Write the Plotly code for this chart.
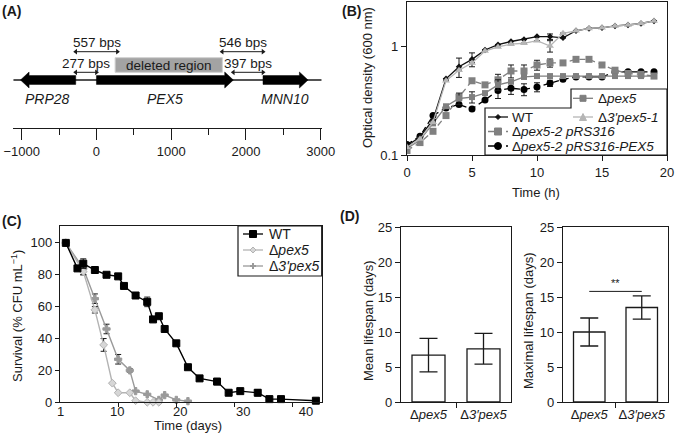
import plotly.graph_objects as go

W, H = 676, 441
FONT = 'Arial, Liberation Sans, sans-serif'
INK = '#1a1a1a'

# ---- (A) PEX5 locus (bp)
gene_names = ['PRP28', 'PEX5', 'MNN10']
gene_tail = [-277, 0, 2228]
gene_tip = [-1016, 1831, 2830]
gene_label_x = [-648, 913, 2517]
deleted_region = [250, 1684]
bp_labels = ['557 bps', '277 bps', '546 bps', '397 bps']
bp_from = [-277, -277, 1682, 1831]
bp_to = [280, 0, 2228, 2228]
bp_upper = [True, False, True, False]
locus_ticks = [-1000, 0, 1000, 2000, 3000]

# ---- (B) growth curves, OD600
time_h = list(range(20))
od_wt = [0.121, 0.147, 0.21, 0.50, 0.645, 0.755, 0.92, 1.03, 1.10, 1.15,
         1.22, 1.22, 1.19, 1.38, 1.45, 1.47, 1.53, 1.56, 1.61, 1.70]
err_wt = [None] * 4 + [0.13, 0.11] + [None] * 5 + [0.07] + [None] * 8
od_d3 = [0.118, 0.14, 0.20, 0.48, 0.60, 0.70, 0.90, 0.98, 1.04, 1.06,
         1.12, 1.00, 1.31, 1.38, 1.45, 1.47, 1.53, 1.56, 1.61, 1.70]
err_d3 = [None] * 11 + [0.12] + [None] * 8
od_dpex5 = [0.115, 0.137, 0.195, 0.28, 0.33, 0.34, 0.37, 0.44, 0.47, 0.52,
            0.53, 0.53, 0.53, 0.53, 0.53, 0.53, 0.53, 0.53, 0.53, 0.53]
err_dpex5 = [None] * 4 + [0.04, 0.04, None, 0.05] + [None] * 12
od_rs = [0.11, 0.13, 0.165, 0.23, 0.34, 0.48, 0.44, 0.49, 0.59, 0.59,
         0.67, 0.70, 0.70, 0.755, 0.755, 0.67, 0.60, 0.56, 0.55, 0.53]
err_rs = [None] * 7 + [0.06, 0.08, 0.08, 0.07, 0.06] + [None] * 8
od_rsp = [0.125, 0.149, 0.23, 0.27, 0.29, 0.265, 0.32, 0.39, 0.41, 0.40,
          0.42, 0.455, 0.495, 0.52, 0.52, 0.52, 0.58, 0.58, 0.58, 0.58]
err_rsp = [None] * 7 + [0.06, 0.05, 0.05, 0.04, 0.03] + [None] * 8

# ---- (C) chronological survival (%)
days_wt = [1, 3, 4, 6, 8, 10, 11, 13, 15, 16, 17, 18, 20, 22, 24, 27, 29, 31, 34, 36, 38, 44]
surv_wt = [100, 84, 87, 83, 80, 79, 73, 67, 63, 52, 54, 46, 37, 22, 15, 13, 6, 7, 6, 2, 2, 1]
serr_wt = [None, None, 3, None, None, 1, None, None, 3, None, None, None, 1, None, None, 2,
           None, None, 2, None, None, None]
days_dpex5 = [1, 4, 6, 7.5, 9, 10, 12, 13, 15, 16, 17]
surv_dpex5 = [100, 82, 58, 36, 12, 6, 6, 1, 0, 0, 0]
serr_dpex5 = [None, 2, 2, 4, None, None, None, None, None, None, None]
days_d3 = [1, 4, 6, 8, 10, 12, 13, 15, 17, 18, 20, 22]
surv_d3 = [100, 84, 65, 46, 27, 20, 7, 5, 1.5, 4.5, 1.5, 0.7]
serr_d3 = [None, 4, 3, 3, 3, 1, None, None, None, None, None, None]
day_ticks = [1, 10, 20, 30, 40]

# ---- (D) lifespans (days)
strains = ['Δ<i>pex5</i>', 'Δ<i>3′pex5</i>']
mean_life = [6.7, 7.6]
mean_err = [2.4, 2.2]
max_life = [10.0, 13.5]
max_err = [2.0, 1.65]
sig_level = 15.8


def fx(p):
    return p / W


def fy(p):
    return 1 - p / H


shapes = []
annotations = []
fig = go.Figure()

# (A) backbone + genes
fig.add_trace(go.Scatter(x=[-1110, 3010], y=[48, 48], mode='lines',
                         line=dict(color=INK, width=1.3), xaxis='x', yaxis='y'))
gx, gy = [], []
for tail, tip in zip(gene_tail, gene_tip):
    d = 1 if tip > tail else -1
    neck = tip - d * 115
    gx += [tail, neck, neck, tip, neck, neck, tail, tail, None]
    gy += [43.6, 43.6, 40, 48, 56, 52.4, 52.4, 43.6, None]
fig.add_trace(go.Scatter(x=gx, y=gy, mode='lines', fill='toself', fillcolor='#000',
                         line=dict(color='#000', width=0.5), xaxis='x', yaxis='y'))
shapes.append(dict(type='rect', xref='x', yref='y', x0=deleted_region[0], x1=deleted_region[1],
                   y0=55.7, y1=70.3, fillcolor='#a3a3a3', line=dict(color='#cfcfcf', width=1)))
annotations.append(dict(x=sum(deleted_region) / 2, y=63, xref='x', yref='y', text='deleted region',
                        showarrow=False, font=dict(size=13.5, color=INK, family=FONT)))
for name, lx in zip(gene_names, gene_label_x):
    annotations.append(dict(x=lx, y=28.7, xref='x', yref='y', text='<i>%s</i>' % name,
                            showarrow=False, font=dict(size=14, color=INK, family=FONT)))

# double-headed distance arrows
arx, ary, arsym = [], [], []
for lab, a, b, up in zip(bp_labels, bp_from, bp_to, bp_upper):
    ly = 76.3 if up else 55.7
    ty = 85.3 if up else 64.7
    arx += [a, b, None]
    ary += [ly, ly, None]
    arsym += ['triangle-left', 'triangle-right', 'circle']
    annotations.append(dict(x=(a + b) / 2, y=ty, xref='x', yref='y', text=lab, showarrow=False,
                            font=dict(size=13.5, color=INK, family=FONT)))
fig.add_trace(go.Scatter(x=arx, y=ary, mode='lines+markers', xaxis='x', yaxis='y',
                         line=dict(color=INK, width=1),
                         marker=dict(symbol=arsym, size=5, color=INK)))

# (B) growth curves
b_series = [
    ('Δpex5-2 pRS316-PEX5', od_rsp, err_rsp, '#000000', '6px,4px', 'circle', 7),
    ('Δpex5-2 pRS316', od_rs, err_rs, '#808080', '6px,4px', 'square', 7),
    ('Δpex5', od_dpex5, err_dpex5, '#7f7f7f', 'solid', 'square', 6),
    ('WT', od_wt, err_wt, '#111111', 'solid', 'diamond', 5),
    ("Δ3'pex5-1", od_d3, err_d3, '#b5b5b5', 'solid', 'triangle-up', 7),
]
for name, ys, es, col, dash, sym, sz in b_series:
    fig.add_trace(go.Scatter(
        x=time_h, y=ys, name=name, mode='lines+markers', xaxis='x2', yaxis='y2',
        line=dict(color=col, width=1.3, dash=dash), marker=dict(color=col, symbol=sym, size=sz),
        error_y=dict(type='data', array=es, color=INK, thickness=1, width=3)))

# (C) survival
c_series = [
    ('Δ3\'pex5', days_d3, surv_d3, serr_d3, '#9a9a9a', 'cross', 6, '#9a9a9a'),
    ('Δpex5', days_dpex5, surv_dpex5, serr_dpex5, '#b3b3b3', 'diamond', 6, '#d6d6d6'),
    ('WT', days_wt, surv_wt, serr_wt, '#000000', 'square', 7, '#000000'),
]
for name, xs, ys, es, col, sym, sz, fill in c_series:
    fig.add_trace(go.Scatter(
        x=xs, y=ys, name=name, mode='lines+markers', xaxis='x3', yaxis='y3', cliponaxis=False,
        line=dict(color=col, width=1.4),
        marker=dict(color=fill, symbol=sym, size=sz, line=dict(color=col, width=1)),
        error_y=dict(type='data', array=es, color=INK, thickness=1, width=3)))
# empty trace so the tick-label axis of (C) gets drawn
fig.add_trace(go.Scatter(x=day_ticks, y=[None] * len(day_ticks), xaxis='x6', yaxis='y3',
                         mode='markers', hoverinfo='skip'))

# (D) lifespans
for vals, errs, xa, ya in [(mean_life, mean_err, 'x4', 'y4'), (max_life, max_err, 'x5', 'y5')]:
    fig.add_trace(go.Bar(x=[0, 1], y=vals, width=0.6, xaxis=xa, yaxis=ya,
                         marker=dict(color='white', line=dict(color=INK, width=1.3)),
                         error_y=dict(type='data', array=errs, color=INK, thickness=1.3, width=9)))
shapes.append(dict(type='line', xref='x5', yref='y5', x0=0, x1=1, y0=sig_level, y1=sig_level,
                   line=dict(color=INK, width=1)))
annotations.append(dict(x=0.5, y=sig_level, xref='x5', yref='y5', text='**', showarrow=False,
                        yanchor='bottom', font=dict(size=11, color=INK, family=FONT)))


# manual legends
def legend_item(x0, x1, y, label, color, dash, symbol, size, fill=None, tx=None, fs=14):
    shapes.append(dict(type='line', xref='paper', yref='paper', x0=fx(x0), x1=fx(x1),
                       y0=fy(y), y1=fy(y), line=dict(color=color, width=1.3, dash=dash)))
    h = size / 2
    base = dict(xref='paper', yref='paper', xsizemode='pixel', ysizemode='pixel',
                xanchor=fx((x0 + x1) / 2), yanchor=fy(y),
                fillcolor=fill or color, line=dict(color=color, width=1))
    if symbol == 'square':
        shapes.append(dict(type='rect', x0=-h, x1=h, y0=-h, y1=h, **base))
    elif symbol == 'circle':
        shapes.append(dict(type='circle', x0=-h, x1=h, y0=-h, y1=h, **base))
    elif symbol == 'diamond':
        shapes.append(dict(type='path', path=f'M0,{h} L{h},0 L0,{-h} L{-h},0 Z', **base))
    elif symbol == 'triangle':
        shapes.append(dict(type='path', path=f'M0,{h} L{h},{-h} L{-h},{-h} Z', **base))
    elif symbol == 'cross':
        base['line'] = dict(color=color, width=2)
        shapes.append(dict(type='path', path=f'M{-h},0 L{h},0 M0,{-h} L0,{h}', **base))
    annotations.append(dict(x=fx(tx if tx else x1 + 3), y=fy(y), xref='paper', yref='paper',
                            text=label, showarrow=False, xanchor='left', yanchor='middle',
                            font=dict(size=fs, color=INK, family=FONT)))


# B legend: stepped outline
pts = [(571, 89), (667, 89), (667, 155), (485, 155), (485, 108), (571, 108)]
path = 'M ' + ' L '.join(f'{fx(a)},{fy(b)}' for a, b in pts) + ' Z'
shapes.append(dict(type='path', xref='paper', yref='paper', path=path, fillcolor='white',
                   line=dict(color=INK, width=1.2)))
legend_item(573, 593, 98.3, 'Δ<i>pex5</i>', '#7f7f7f', 'solid', 'square', 6, tx=596, fs=13.5)
legend_item(573, 593, 117, "Δ<i>3'pex5-1</i>", '#b5b5b5', 'solid', 'triangle', 7, tx=596, fs=13.5)
legend_item(488, 508, 117, 'WT', '#111111', 'solid', 'diamond', 5, tx=510, fs=13.5)
legend_item(488, 508, 131.5, 'Δ<i>pex5-2 pRS316</i>', '#808080', 'dash', 'square', 7, tx=510, fs=13.5)
legend_item(488, 508, 146, 'Δ<i>pex5-2 pRS316-PEX5</i>', '#000000', 'dash', 'circle', 7, tx=510,
            fs=13.5)

# C legend
shapes.append(dict(type='rect', xref='paper', yref='paper', x0=fx(238), x1=fx(321.7),
                   y0=fy(276), y1=fy(226), fillcolor='white', line=dict(color=INK, width=1.2)))
legend_item(243, 263, 234, 'WT', '#000000', 'solid', 'square', 7, tx=267)
legend_item(243, 263, 250, 'Δ<i>pex5</i>', '#b3b3b3', 'solid', 'diamond', 6, fill='#d6d6d6', tx=267)
legend_item(243, 263, 266, "Δ<i>3'pex5</i>", '#9a9a9a', 'solid', 'cross', 6, tx=267)


# titles and panel letters
def text_at(x, y, s, size=13, angle=0, bold=False, anchor='center'):
    annotations.append(dict(x=fx(x), y=fy(y), xref='paper', yref='paper',
                            xanchor=anchor, yanchor='middle',
                            text='<b>%s</b>' % s if bold else s, showarrow=False, textangle=angle,
                            font=dict(size=size, color=INK, family=FONT)))


text_at(536, 192, 'Time (h)')
text_at(368, 78, 'Optical density (600 nm)', angle=-90)
text_at(188, 425, 'Time (days)')
text_at(17, 316, 'Survival (% CFU mL<sup>−1</sup>)', angle=-90)
text_at(368, 321, 'Mean lifespan (days)', angle=-90)
text_at(528, 321, 'Maximal lifespan (days)', angle=-90)
for lab, x, y in [('(A)', 0, 11), ('(B)', 340, 11), ('(C)', 0, 221), ('(D)', 338, 216)]:
    text_at(x, y, lab, size=14, bold=True, anchor='left')

ax = dict(showgrid=False, zeroline=False, showline=True, linecolor=INK, linewidth=1.2,
          ticks='outside', tickcolor=INK, tickwidth=1.2, ticklen=5, automargin=False,
          tickfont=dict(size=13, color=INK, family=FONT))

fig.update_layout(
    width=W, height=H, margin=dict(l=0, r=0, t=0, b=0), showlegend=False,
    paper_bgcolor='white', plot_bgcolor='white', font=dict(family=FONT, color=INK),
    shapes=shapes, annotations=annotations,
    xaxis=dict(ax, domain=[fx(13), fx(322)], range=[-1116, 3017], anchor='y',
               tickvals=locus_ticks, ticklen=11,
               minor=dict(tickvals=[-500, 500, 1500, 2500], ticks='outside', ticklen=6,
                          tickcolor=INK, tickwidth=1.2)),
    yaxis=dict(domain=[fy(128), fy(25)], range=[0, 103], visible=False, anchor='x'),
    xaxis2=dict(ax, domain=[fx(407), fx(667)], range=[0, 20], dtick=5, tick0=0,
                anchor='y2', mirror=True),
    yaxis2=dict(ax, domain=[fy(155), fy(2)], type='log', range=[-1, 0.404],
                tickvals=[0.1, 1], ticktext=['0.1', '1'], anchor='x2', mirror=True),
    xaxis3=dict(ax, domain=[fx(60), fx(321.7)], range=[0, 45], tickvals=[10, 20, 30, 40],
                showticklabels=False, ticklen=4, anchor='y3', mirror=True),
    yaxis3=dict(ax, domain=[fy(402.3), fy(226)], range=[0, 110.6], dtick=20, ticklen=4,
                anchor='x3', mirror=True),
    xaxis6=dict(overlaying='x3', anchor='y3', range=[0.889, 42.49], tickvals=day_ticks,
                ticks='', showline=False, showgrid=False, zeroline=False, automargin=False,
                tickfont=dict(size=13, color=INK, family=FONT)),
    xaxis4=dict(ax, domain=[fx(401), fx(511)], range=[-0.5, 1.5], tickvals=[0, 1],
                ticktext=strains, ticks='', anchor='y4', mirror=True,
                minor=dict(tickvals=[0.5], ticks='outside', ticklen=5, tickcolor=INK, tickwidth=1.2)),
    yaxis4=dict(ax, domain=[fy(402), fy(227)], range=[0, 25], dtick=5, anchor='x4', mirror=True),
    xaxis5=dict(ax, domain=[fx(563), fx(668)], range=[-0.5, 1.5], tickvals=[0, 1],
                ticktext=strains, ticks='', anchor='y5', mirror=True,
                minor=dict(tickvals=[0.5], ticks='outside', ticklen=5, tickcolor=INK, tickwidth=1.2)),
    yaxis5=dict(ax, domain=[fy(402), fy(227)], range=[0, 25], dtick=5, anchor='x5', mirror=True),
)

# the page's default body margin would shift the figure by 8px
fig.write_html('out.html', config={'displayModeBar': False},
               post_script="document.body.style.margin='0';")
